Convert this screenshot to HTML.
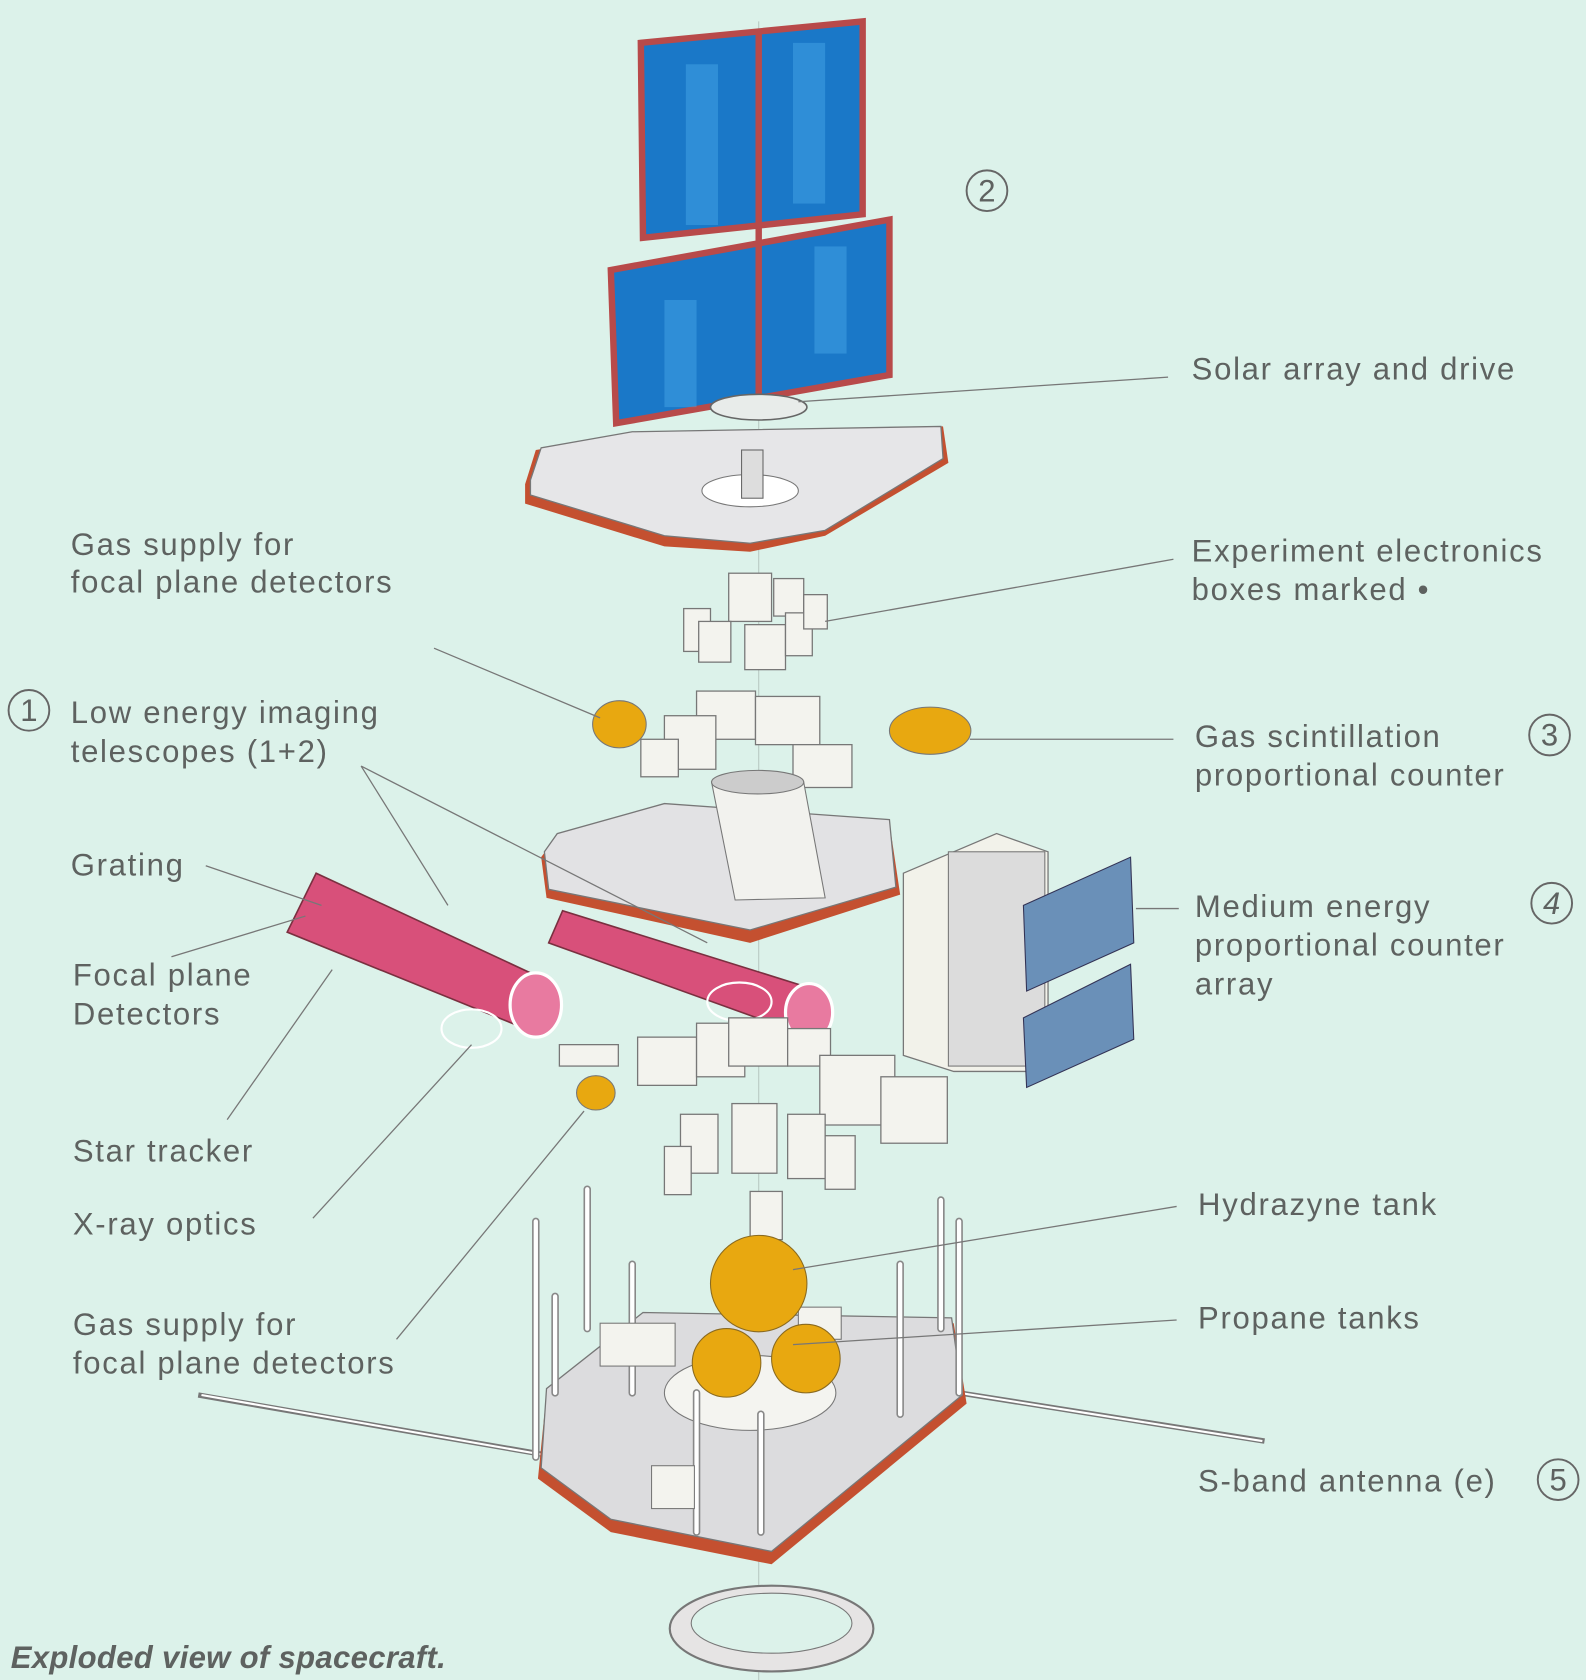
<!DOCTYPE html>
<html><head><meta charset="utf-8"><style>
html,body{margin:0;padding:0;background:#dcf2ea;}
svg{display:block}
text{font-family:"Liberation Sans",sans-serif;fill:#5e6260;font-size:29px;letter-spacing:1.6px;}
</style></head><body>
<svg width="1586" height="1680" viewBox="0 0 1480 1568" preserveAspectRatio="none" xmlns="http://www.w3.org/2000/svg">
<rect width="1480" height="1568" fill="#dcf2ea"/>
<line x1="708" y1="20" x2="708" y2="1568" stroke="#b8c8c2" stroke-width="1"/>
<!-- solar panels -->
<polygon points="598,40 805,20 805,200 600,222" fill="#1a78c8" stroke="#b84a4a" stroke-width="6"/>
<polygon points="570,252 830,205 830,350 575,395" fill="#1a78c8" stroke="#b84a4a" stroke-width="6"/>
<line x1="708" y1="28" x2="708" y2="385" stroke="#b84a4a" stroke-width="6"/>
<rect x="640" y="60" width="30" height="150" fill="#4aa8e8" opacity="0.45"/>
<rect x="740" y="40" width="30" height="150" fill="#4aa8e8" opacity="0.45"/>
<rect x="620" y="280" width="30" height="100" fill="#4aa8e8" opacity="0.45"/>
<rect x="760" y="230" width="30" height="100" fill="#4aa8e8" opacity="0.45"/>
<ellipse cx="708" cy="380" rx="45" ry="12" fill="#e8ecea" stroke="#666" stroke-width="1.5"/>
<!-- top deck -->
<polygon points="490,452 500,420 590,405 880,398 885,432 770,500 700,515 620,510 490,470" fill="#c45030"/>
<polygon points="495,448 505,418 590,403 878,398 880,428 770,495 700,507 620,500 495,462" fill="#e6e6e8" stroke="#777" stroke-width="1.2"/>
<ellipse cx="700" cy="458" rx="45" ry="15" fill="#fff" stroke="#777"/>
<rect x="692" y="420" width="20" height="45" fill="#ddd" stroke="#666"/>
<g fill="#f3f3ee" stroke="#777" stroke-width="1.2">
<rect x="680" y="535" width="40" height="45"/><rect x="722" y="540" width="28" height="35"/>
<rect x="638" y="568" width="25" height="40"/><rect x="652" y="580" width="30" height="38"/>
<rect x="695" y="583" width="38" height="42"/><rect x="733" y="572" width="25" height="40"/><rect x="750" y="555" width="22" height="32"/>
<rect x="650" y="645" width="55" height="45"/><rect x="705" y="650" width="60" height="45"/><rect x="620" y="668" width="48" height="50"/>
<rect x="598" y="690" width="35" height="35"/><rect x="740" y="695" width="55" height="40"/>
</g>
<ellipse cx="578" cy="676" rx="25" ry="22" fill="#e8a810" stroke="#777"/>
<ellipse cx="868" cy="682" rx="38" ry="22" fill="#e8a810" stroke="#777"/>
<!-- middle deck -->
<polygon points="505,800 520,780 620,752 830,768 840,835 700,880 510,838" fill="#c45030"/>
<polygon points="508,795 520,778 620,750 830,765 836,828 700,868 512,830" fill="#e2e2e4" stroke="#777" stroke-width="1.2"/>
<polygon points="664,730 750,730 770,838 686,840" fill="#f2f2ee" stroke="#777"/>
<ellipse cx="707" cy="730" rx="43" ry="11" fill="#ccc" stroke="#777"/>
<!-- telescopes -->
<polygon points="268,870 295,815 510,915 490,960" fill="#d8507a" stroke="#7a3040" stroke-width="1.5"/>
<ellipse cx="500" cy="938" rx="24" ry="30" fill="#e87aa0" stroke="#fff" stroke-width="3"/>
<polygon points="512,880 525,850 765,925 748,965" fill="#d8507a" stroke="#7a3040" stroke-width="1.5"/>
<ellipse cx="755" cy="945" rx="22" ry="27" fill="#e87aa0" stroke="#fff" stroke-width="3"/>
<ellipse cx="440" cy="960" rx="28" ry="18" fill="none" stroke="#fff" stroke-width="2"/>
<ellipse cx="690" cy="935" rx="30" ry="18" fill="none" stroke="#fff" stroke-width="2"/>
<!-- right detector -->
<polygon points="843,815 930,778 978,795 978,1000 890,1000 843,985" fill="#f2f2ea" stroke="#777" stroke-width="1.2"/>
<rect x="885" y="795" width="90" height="200" fill="#dcdcdc" stroke="#777"/>
<g fill="#6a90b8" stroke="#335" stroke-width="1">
<polygon points="955,845 1055,800 1058,880 958,925"/>
<polygon points="955,950 1055,900 1058,970 958,1015"/>
</g>
<g fill="#f3f3ee" stroke="#777" stroke-width="1.2">
<rect x="522" y="975" width="55" height="20"/><rect x="595" y="968" width="55" height="45"/><rect x="650" y="955" width="45" height="50"/>
<rect x="680" y="950" width="55" height="45"/><rect x="735" y="960" width="40" height="35"/><rect x="765" y="985" width="70" height="65"/>
<rect x="822" y="1005" width="62" height="62"/>
<rect x="635" y="1040" width="35" height="55"/><rect x="683" y="1030" width="42" height="65"/><rect x="735" y="1040" width="35" height="60"/><rect x="770" y="1060" width="28" height="50"/><rect x="620" y="1070" width="25" height="45"/>
<rect x="700" y="1112" width="30" height="45"/>
</g>
<ellipse cx="556" cy="1020" rx="18" ry="16" fill="#e8a810" stroke="#777"/>
<!-- bottom deck -->
<line x1="185" y1="1302" x2="510" y2="1358" stroke="#777" stroke-width="5"/>
<line x1="188" y1="1302" x2="508" y2="1358" stroke="#fff" stroke-width="2"/>
<line x1="895" y1="1300" x2="1180" y2="1345" stroke="#777" stroke-width="5"/>
<line x1="895" y1="1300" x2="1178" y2="1345" stroke="#fff" stroke-width="2"/>
<ellipse cx="720" cy="1520" rx="95" ry="40" fill="#e6e4e4" stroke="#777" stroke-width="2"/>
<ellipse cx="720" cy="1515" rx="75" ry="28" fill="#dcf2ea" stroke="#777"/>
<polygon points="502,1380 510,1300 600,1230 890,1235 902,1310 720,1460 570,1430" fill="#c45030"/>
<polygon points="505,1370 510,1296 600,1225 888,1230 898,1302 720,1448 570,1418" fill="#dcdcde" stroke="#777" stroke-width="1.2"/>
<ellipse cx="700" cy="1300" rx="80" ry="35" fill="#f4f4f0" stroke="#777"/>
<g stroke="#888" stroke-width="7" stroke-linecap="round">
<line x1="500" y1="1140" x2="500" y2="1360"/><line x1="548" y1="1110" x2="548" y2="1240"/><line x1="518" y1="1210" x2="518" y2="1300"/>
<line x1="590" y1="1180" x2="590" y2="1300"/><line x1="650" y1="1300" x2="650" y2="1430"/><line x1="710" y1="1320" x2="710" y2="1430"/>
<line x1="878" y1="1120" x2="878" y2="1240"/><line x1="895" y1="1140" x2="895" y2="1300"/><line x1="840" y1="1180" x2="840" y2="1320"/>
</g>
<g stroke="#fff" stroke-width="4" stroke-linecap="round">
<line x1="500" y1="1140" x2="500" y2="1360"/><line x1="548" y1="1110" x2="548" y2="1240"/><line x1="518" y1="1210" x2="518" y2="1300"/>
<line x1="590" y1="1180" x2="590" y2="1300"/><line x1="650" y1="1300" x2="650" y2="1430"/><line x1="710" y1="1320" x2="710" y2="1430"/>
<line x1="878" y1="1120" x2="878" y2="1240"/><line x1="895" y1="1140" x2="895" y2="1300"/><line x1="840" y1="1180" x2="840" y2="1320"/>
</g>
<g fill="#f3f3ee" stroke="#777"><rect x="560" y="1235" width="70" height="40"/><rect x="608" y="1368" width="40" height="40"/><rect x="745" y="1220" width="40" height="30"/></g>
<circle cx="708" cy="1198" r="45" fill="#e8a810" stroke="#8a6a20"/>
<circle cx="678" cy="1272" r="32" fill="#e8a810" stroke="#8a6a20"/>
<circle cx="752" cy="1268" r="32" fill="#e8a810" stroke="#8a6a20"/>
<g stroke="#777" stroke-width="1.2" fill="none">
<line x1="1090" y1="352" x2="745" y2="375"/>
<line x1="1095" y1="522" x2="770" y2="580"/>
<line x1="1095" y1="690" x2="905" y2="690"/>
<line x1="1100" y1="848" x2="1060" y2="848"/>
<line x1="405" y1="605" x2="560" y2="670"/>
<line x1="337" y1="715" x2="418" y2="845"/><line x1="337" y1="715" x2="660" y2="880"/>
<line x1="192" y1="808" x2="300" y2="845"/>
<line x1="160" y1="893" x2="285" y2="855"/>
<line x1="212" y1="1045" x2="310" y2="905"/>
<line x1="292" y1="1137" x2="440" y2="975"/>
<line x1="370" y1="1250" x2="545" y2="1037"/>
<line x1="1098" y1="1126" x2="740" y2="1185"/>
<line x1="1098" y1="1232" x2="740" y2="1255"/>
</g>
<text x="1112" y="354">Solar array and drive</text>
<text x="1112" y="524">Experiment electronics</text>
<text x="1112" y="560">boxes marked •</text>
<text x="1115" y="697">Gas scintillation</text>
<text x="1115" y="733">proportional counter</text>
<text x="1115" y="856">Medium energy</text>
<text x="1115" y="892">proportional counter</text>
<text x="1115" y="928">array</text>
<text x="1118" y="1134">Hydrazyne tank</text>
<text x="1118" y="1240">Propane tanks</text>
<text x="1118" y="1392">S-band antenna (e)</text>
<text x="66" y="518">Gas supply for</text>
<text x="66" y="553">focal plane detectors</text>
<text x="66" y="675">Low energy imaging</text>
<text x="66" y="711">telescopes (1+2)</text>
<text x="66" y="817">Grating</text>
<text x="68" y="920">Focal plane</text>
<text x="68" y="956">Detectors</text>
<text x="68" y="1084">Star tracker</text>
<text x="68" y="1152">X-ray optics</text>
<text x="68" y="1246">Gas supply for</text>
<text x="68" y="1282">focal plane detectors</text>
<g fill="none" stroke="#666" stroke-width="1.8">
<circle cx="921" cy="178" r="19"/><circle cx="27" cy="663" r="19"/><circle cx="1446" cy="686" r="19"/><circle cx="1448" cy="843" r="19"/><circle cx="1454" cy="1381" r="19"/>
</g>
<g font-size="26" text-anchor="middle" style="letter-spacing:0">
<text x="921" y="188" style="letter-spacing:0">2</text><text x="27" y="673" style="letter-spacing:0">1</text><text x="1446" y="696" style="letter-spacing:0">3</text><text x="1448" y="853" font-style="italic" style="letter-spacing:0">4</text><text x="1454" y="1391" style="letter-spacing:0">5</text>
</g>
<text x="10" y="1557" font-size="19" font-style="italic" font-weight="bold" fill="#555" style="letter-spacing:0.3px">Exploded view of spacecraft.</text>
</svg>
</body></html>
